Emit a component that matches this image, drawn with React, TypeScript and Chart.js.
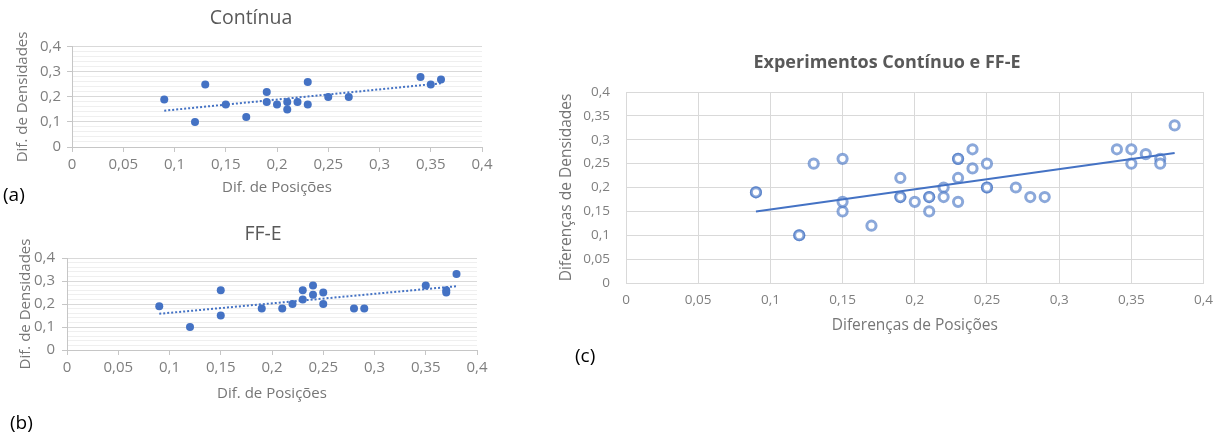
import { useEffect, useRef } from 'react';
import { Chart, registerables } from 'chart.js';

Chart.register(...registerables);

// ---------- data ----------
const continuaX = [0.09, 0.12, 0.13, 0.15, 0.17, 0.19, 0.19, 0.2, 0.21, 0.21, 0.22, 0.23, 0.23, 0.25, 0.27, 0.34, 0.35, 0.36];
const continuaY = [0.19, 0.1, 0.25, 0.17, 0.12, 0.22, 0.18, 0.17, 0.18, 0.15, 0.18, 0.26, 0.17, 0.2, 0.2, 0.28, 0.25, 0.27];
const ffeX = [0.09, 0.12, 0.15, 0.15, 0.19, 0.21, 0.22, 0.23, 0.23, 0.24, 0.24, 0.25, 0.25, 0.28, 0.29, 0.35, 0.37, 0.37, 0.38];
const ffeY = [0.19, 0.1, 0.26, 0.15, 0.18, 0.18, 0.2, 0.26, 0.22, 0.28, 0.24, 0.25, 0.2, 0.18, 0.18, 0.28, 0.26, 0.25, 0.33];

const axisMin = 0;
const axisMax = 0.4;
const xStep = 0.05;
const smallYStep = 0.02;
const smallYMajor = 0.1;
const bigYStep = 0.05;

const titleA = 'Contínua';
const titleB = 'FF-E';
const titleC = 'Experimentos Contínuo e FF-E';
const xTitleSmall = 'Dif. de Posições';
const yTitleSmall = 'Dif. de Densidades';
const xTitleBig = 'Diferenças de Posições';
const yTitleBig = 'Diferenças de Densidades';
const panelLabels = ['(a)', '(b)', '(c)'];

// ---------- styles ----------
const FONT = "'Open Sans', 'Noto Sans', sans-serif";
const BLUE = '#4472C4';
const RING = 'rgba(68,114,196,0.62)';
const TICK = '#7f7f7f';
const AXT = '#767676';
const TITLE = '#595959';
const AXIS = '#c6c6c6';
const MAJ = '#d9d9d9';
const MIN = '#efefef';

const fmt = (v: any) => String(Math.round(Number(v) * 1000) / 1000).replace('.', ',');
const isMajor = (v: number) => Math.abs(v / smallYMajor - Math.round(v / smallYMajor)) < 1e-6;

function linReg(xs: number[], ys: number[]) {
  const n = xs.length;
  const mx = xs.reduce((a, b) => a + b, 0) / n;
  const my = ys.reduce((a, b) => a + b, 0) / n;
  let sxy = 0;
  let sxx = 0;
  for (let i = 0; i < n; i++) {
    sxy += (xs[i] - mx) * (ys[i] - my);
    sxx += (xs[i] - mx) * (xs[i] - mx);
  }
  const b = sxy / sxx;
  return { a: my - b * mx, b };
}

function trendPoints(xs: number[], ys: number[]) {
  const r = linReg(xs, ys);
  const x0 = Math.min(...xs);
  const x1 = Math.max(...xs);
  return [
    { x: x0, y: r.a + r.b * x0 },
    { x: x1, y: r.a + r.b * x1 },
  ];
}

const toPts = (xs: number[], ys: number[]) => xs.map((x, i) => ({ x, y: ys[i] }));

const titlePlace = {
  id: 'titlePlace',
  afterLayout(chart: any, _args: any, opts: any) {
    const t = chart.titleBlock;
    if (!t || opts == null || opts.centerX == null) return;
    const w = t.right - t.left;
    t.left = opts.centerX - w / 2;
    t.right = opts.centerX + w / 2;
  },
};

type Geo = {
  padRight: number;
  titleTop: number;
  titleBottom: number;
  titleX: number;
  yAxisW: number;
  yTitlePad: number;
  yTickPad: number;
  xAxisH: number;
  xTickPad: number;
  xTitlePad: number;
};

function makeSmall(canvas: HTMLCanvasElement, xs: number[], ys: number[], title: string, g: Geo) {
  return new Chart(canvas, {
    type: 'scatter',
    data: {
      datasets: [
        {
          data: trendPoints(xs, ys),
          showLine: true,
          borderColor: BLUE,
          borderWidth: 2,
          borderDash: [2, 2],
          pointRadius: 0,
          pointHoverRadius: 0,
        },
        {
          data: toPts(xs, ys),
          backgroundColor: BLUE,
          borderColor: BLUE,
          borderWidth: 0,
          pointRadius: 4,
        },
      ],
    },
    options: {
      responsive: false,
      animation: false,
      events: [],
      layout: { padding: { left: 0, right: g.padRight, top: 0, bottom: 0 } },
      plugins: {
        legend: { display: false },
        tooltip: { enabled: false },
        title: {
          display: true,
          text: title,
          color: TITLE,
          font: { family: FONT, size: 19.5, weight: 'normal' },
          padding: { top: g.titleTop, bottom: g.titleBottom },
        },
        titlePlace: { centerX: g.titleX },
      } as any,
      scales: {
        x: {
          type: 'linear',
          min: axisMin,
          max: axisMax,
          afterFit: (s: any) => {
            s.height = g.xAxisH;
          },
          ticks: {
            stepSize: xStep,
            maxTicksLimit: 100,
            autoSkip: false,
            maxRotation: 0,
            color: TICK,
            font: { family: FONT, size: 15 },
            padding: g.xTickPad,
            callback: (v: any) => fmt(v),
          },
          grid: { drawOnChartArea: false, drawTicks: true, tickLength: 5, tickColor: AXIS },
          border: { color: AXIS },
          title: {
            display: true,
            text: xTitleSmall,
            color: AXT,
            font: { family: FONT, size: 15 },
            padding: { top: 0, bottom: g.xTitlePad },
          },
        },
        y: {
          type: 'linear',
          min: axisMin,
          max: axisMax,
          afterFit: (s: any) => {
            s.width = g.yAxisW;
          },
          ticks: {
            stepSize: smallYStep,
            maxTicksLimit: 100,
            autoSkip: false,
            color: TICK,
            font: { family: FONT, size: 15 },
            padding: g.yTickPad,
            callback: (v: any) => (isMajor(Number(v)) ? fmt(v) : ''),
          },
          grid: {
            color: (c: any) => (isMajor(c.tick.value) ? MAJ : MIN),
            tickColor: (c: any) => (isMajor(c.tick.value) ? AXIS : 'rgba(0,0,0,0)'),
            drawTicks: true,
            tickLength: 5,
          },
          border: { color: AXIS },
          title: {
            display: true,
            text: yTitleSmall,
            color: AXT,
            font: { family: FONT, size: 15 },
            padding: { top: g.yTitlePad, bottom: 0 },
          },
        },
      },
    } as any,
    plugins: [titlePlace as any],
  });
}

function makeBig(canvas: HTMLCanvasElement) {
  const allX = [...continuaX, ...ffeX];
  const allY = [...continuaY, ...ffeY];
  const ring = {
    backgroundColor: '#ffffff',
    borderColor: RING,
    borderWidth: 3,
    pointRadius: 4.6,
  };
  return new Chart(canvas, {
    type: 'scatter',
    data: {
      datasets: [
        {
          data: trendPoints(allX, allY),
          showLine: true,
          borderColor: BLUE,
          borderWidth: 2,
          pointRadius: 0,
          pointHoverRadius: 0,
        },
        { data: toPts(continuaX, continuaY), ...ring },
        { data: toPts(ffeX, ffeY), ...ring },
      ],
    },
    options: {
      responsive: false,
      animation: false,
      events: [],
      layout: { padding: { left: 0, right: 13, top: 0, bottom: 0 } },
      plugins: {
        legend: { display: false },
        tooltip: { enabled: false },
        title: {
          display: true,
          text: titleC,
          color: TITLE,
          font: { family: FONT, size: 18, weight: 'bold' },
          padding: { top: 17, bottom: 18.4 },
        },
        titlePlace: { centerX: 347 },
      } as any,
      scales: {
        x: {
          type: 'linear',
          min: axisMin,
          max: axisMax,
          afterFit: (s: any) => {
            s.height = 60;
          },
          ticks: {
            stepSize: xStep,
            maxTicksLimit: 100,
            autoSkip: false,
            maxRotation: 0,
            color: TICK,
            font: { family: FONT, size: 13.5 },
            padding: 9,
            callback: (v: any) => fmt(v),
          },
          grid: { color: MAJ, drawTicks: false },
          border: { color: MAJ },
          title: {
            display: true,
            text: xTitleBig,
            color: AXT,
            font: { family: FONT, size: 15.5 },
            padding: { top: 0, bottom: 8 },
          },
        },
        y: {
          type: 'linear',
          min: axisMin,
          max: axisMax,
          afterFit: (s: any) => {
            s.width = 86;
          },
          ticks: {
            stepSize: bigYStep,
            maxTicksLimit: 100,
            autoSkip: false,
            color: TICK,
            font: { family: FONT, size: 13.5 },
            padding: 16,
            callback: (v: any) => fmt(v),
          },
          grid: { color: MAJ, drawTicks: false },
          border: { color: MAJ },
          title: {
            display: true,
            text: yTitleBig,
            color: AXT,
            font: { family: FONT, size: 15.5 },
            padding: { top: 17.5, bottom: 0 },
          },
        },
      },
    } as any,
    plugins: [titlePlace as any],
  });
}

export default function App() {
  const refA = useRef<HTMLCanvasElement>(null);
  const refB = useRef<HTMLCanvasElement>(null);
  const refC = useRef<HTMLCanvasElement>(null);

  useEffect(() => {
    const charts: Chart[] = [];
    if (refA.current)
      charts.push(
        makeSmall(refA.current, continuaX, continuaY, titleA, {
          padRight: 38,
          titleTop: 6.5,
          titleBottom: 17,
          titleX: 251,
          yAxisW: 72,
          yTitlePad: 14,
          yTickPad: 6,
          xAxisH: 58,
          xTickPad: 4,
          xTitlePad: 8,
        })
      );
    if (refB.current)
      charts.push(
        makeSmall(refB.current, ffeX, ffeY, titleB, {
          padRight: 43,
          titleTop: 8.2,
          titleBottom: 11.4,
          titleX: 263,
          yAxisW: 67,
          yTitlePad: 17,
          yTickPad: 7,
          xAxisH: 58,
          xTickPad: 4,
          xTitlePad: 5.5,
        })
      );
    if (refC.current) charts.push(makeBig(refC.current));
    return () => charts.forEach((c) => c.destroy());
  }, []);

  const lbl = (left: number, cy: number): React.CSSProperties => ({
    position: 'absolute',
    left,
    top: cy - 12,
    height: 24,
    lineHeight: '24px',
    fontFamily: FONT,
    fontSize: 19,
    color: '#000',
  });

  return (
    <div
      style={{
        position: 'absolute',
        left: 0,
        top: 0,
        width: 1222,
        height: 438,
        overflow: 'hidden',
        background: '#fff',
      }}
    >
      <canvas ref={refA} width={520} height={205} style={{ position: 'absolute', left: 0, top: 0, width: 520, height: 205 }} />
      <canvas ref={refB} width={520} height={193} style={{ position: 'absolute', left: 0, top: 215, width: 520, height: 193 }} />
      <canvas ref={refC} width={682} height={308} style={{ position: 'absolute', left: 540, top: 35, width: 682, height: 308 }} />
      <div style={lbl(3, 194)}>{panelLabels[0]}</div>
      <div style={lbl(10, 422)}>{panelLabels[1]}</div>
      <div style={lbl(575, 355)}>{panelLabels[2]}</div>
    </div>
  );
}
